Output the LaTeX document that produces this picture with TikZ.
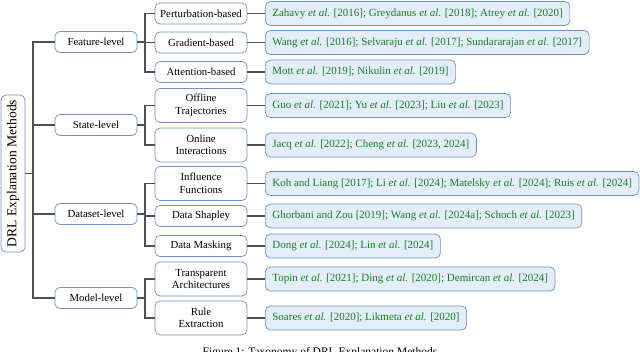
\documentclass[tikz,border=0pt]{standalone}
\usepackage{fontspec}
\setmainfont{Liberation Serif}
\newcommand{\myetal}{\textit{et al.}}
\definecolor{bordblue}{RGB}{110,145,195}
\definecolor{leaffill}{RGB}{228,238,250}
\definecolor{citegreen}{RGB}{25,125,35}
\definecolor{connc}{RGB}{80,80,80}
\begin{document}
\begin{tikzpicture}[x=1pt,y=-1pt,
  base/.style={draw=bordblue, line width=0.7pt, rounded corners=5pt, fill=white,
    font=\fontsize{10.8}{12.5}\selectfont, align=center, inner sep=0pt},
  rootbox/.style={base, rotate=90, minimum width=157pt, minimum height=24pt,
    font=\fontsize{13.6}{16}\selectfont},
  lvone/.style={base, minimum width=82pt, minimum height=21pt},
  lvtwo/.style={base, minimum width=92pt, minimum height=21pt},
  lvtwob/.style={base, minimum width=92pt, minimum height=34pt},
  leaf/.style={base, fill=leaffill, anchor=west, inner xsep=7pt, minimum height=24pt,
    text=citegreen, font=\fontsize{11}{13}\selectfont},
  conn/.style={draw=connc, line width=1.2pt}
]
\useasboundingbox (0,0) rectangle (640,352);

% root
\node[rootbox] (root) at (13,173.5) {DRL Explanation Methods};

% level 1
\node[lvone] (feat) at (96,42) {Feature-level};
\node[lvone] (state) at (96,125) {State-level};
\node[lvone] (data) at (96,214) {Dataset-level};
\node[lvone] (model) at (96,298) {Model-level};

% level 2
\node[lvtwo] (pert) at (201,13.5) {Perturbation-based};
\node[lvtwo] (grad) at (201,42.5) {Gradient-based};
\node[lvtwo] (att) at (201,72) {Attention-based};
\node[lvtwob] (off) at (201,105.5) {Offline\\Trajectories};
\node[lvtwob] (onl) at (201,145) {Online\\Interactions};
\node[lvtwob] (infl) at (201,183.5) {Influence\\Functions};
\node[lvtwo] (shap) at (201,216) {Data Shapley};
\node[lvtwo] (mask) at (201,246) {Data Masking};
\node[lvtwob] (trans) at (201,279) {Transparent\\Architectures};
\node[lvtwob] (rule) at (201,318) {Rule\\Extraction};

% leaves
\node[leaf] (l1) at (265,13.5) {Zahavy \myetal{} [2016]; Greydanus \myetal{} [2018]; Atrey \myetal{} [2020]};
\node[leaf] (l2) at (265,42.5) {Wang \myetal{} [2016]; Selvaraju \myetal{} [2017]; Sundararajan \myetal{} [2017]};
\node[leaf] (l3) at (265,72) {Mott \myetal{} [2019]; Nikulin \myetal{} [2019]};
\node[leaf] (l4) at (265,105.5) {Guo \myetal{} [2021]; Yu \myetal{} [2023]; Liu \myetal{} [2023]};
\node[leaf] (l5) at (265,145) {Jacq \myetal{} [2022]; Cheng \myetal{} [2023, 2024]};
\node[leaf] (l6) at (265,183.5) {Koh and Liang [2017]; Li \myetal{} [2024]; Matelsky \myetal{} [2024]; Ruis \myetal{} [2024]};
\node[leaf] (l7) at (265,216) {Ghorbani and Zou [2019]; Wang \myetal{} [2024a]; Schoch \myetal{} [2023]};
\node[leaf] (l8) at (265,246) {Dong \myetal{} [2024]; Lin \myetal{} [2024]};
\node[leaf] (l9) at (265,279) {Topin \myetal{} [2021]; Ding \myetal{} [2020]; Demircan \myetal{} [2024]};
\node[leaf] (l10) at (265,318) {Soares \myetal{} [2020]; Likmeta \myetal{} [2020]};

% junctions
\coordinate (tk) at (33,173.5);
\coordinate (fj) at (145,42);
\coordinate (sj) at (145,125);
\coordinate (dj) at (145,214);
\coordinate (mj) at (145,298);

% connectors
\draw[conn] (root) -- (tk);
\foreach \n in {feat,state,data,model} \draw[conn] (tk) |- (\n);
\draw[conn] (feat) -- (fj);
\draw[conn] (state) -- (sj);
\draw[conn] (data) -- (dj);
\draw[conn] (model) -- (mj);
\foreach \n in {pert,grad,att} \draw[conn] (fj) |- (\n);
\foreach \n in {off,onl} \draw[conn] (sj) |- (\n);
\foreach \n in {infl,shap,mask} \draw[conn] (dj) |- (\n);
\foreach \n in {trans,rule} \draw[conn] (mj) |- (\n);
\foreach \a/\b in {pert/l1,grad/l2,att/l3,off/l4,onl/l5,infl/l6,shap/l7,mask/l8,trans/l9,rule/l10}
  \draw[conn] (\a) -- (\b);

% caption (partly cut off, as in the reference)
\node[anchor=base, font=\fontsize{11.5}{13}\selectfont, inner sep=0pt] (cap) at (320,356)
  {Figure 1: Taxonomy of DRL Explanation Methods};
\end{tikzpicture}
\end{document}
